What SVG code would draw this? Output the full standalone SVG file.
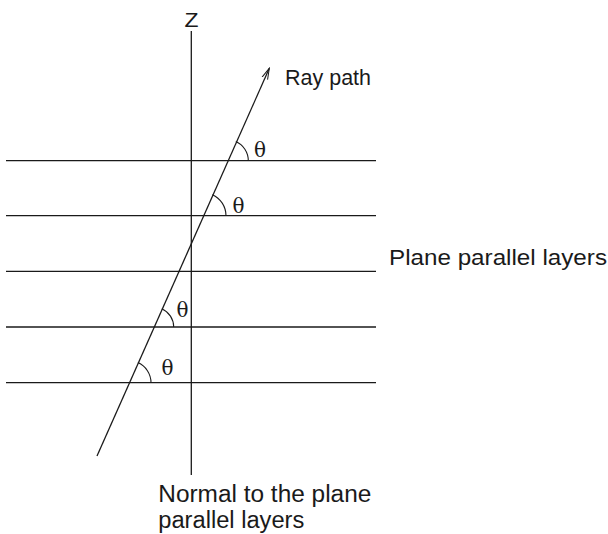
<svg xmlns="http://www.w3.org/2000/svg" width="608" height="534" viewBox="0 0 608 534">
<style>
.ln{stroke:#1a1a1a;stroke-width:1.3;fill:none}
.arc{stroke:#1a1a1a;stroke-width:1.1;fill:none}
.lbl{font-family:"Liberation Sans",Arial,Helvetica,sans-serif;fill:#1a1a1a}
.th{font-family:"DejaVu Serif","Liberation Serif",serif;font-size:21px;fill:#1a1a1a}
</style>
<defs>
<marker id="arr" viewBox="0 0 12 8" refX="11" refY="4" markerWidth="12" markerHeight="8" markerUnits="userSpaceOnUse" orient="auto">
<path d="M0,1 L11,4 L0,7" fill="none" stroke="#1a1a1a" stroke-width="1"/>
</marker>
</defs>
<rect width="608" height="534" fill="#fff"/>
<g id="layers">
<line class="ln" x1="6" y1="160.7" x2="376" y2="160.7"/>
<line class="ln" x1="6" y1="215.7" x2="376" y2="215.7"/>
<line class="ln" x1="6" y1="271.3" x2="376" y2="271.3"/>
<line class="ln" x1="6" y1="327" x2="376" y2="327"/>
<line class="ln" x1="6" y1="382.7" x2="376" y2="382.7"/>
</g>
<g id="normal">
<line class="ln" x1="191.3" y1="31" x2="191.3" y2="475"/>
</g>
<g id="connectors">
<line class="ln" x1="97" y1="456" x2="269.3" y2="68.3" marker-end="url(#arr)"/>
</g>
<g id="angles">
<path class="arc" d="M235.8,141.5 A21,21 0 0 1 248.3,160.7"/>
<path class="arc" d="M212.3,194.7 A23,23 0 0 1 226,215.7"/>
<path class="arc" d="M161.8,308.7 A20,20 0 0 1 173.7,327"/>
<path class="arc" d="M137.9,362.6 A22,22 0 0 1 151,382.7"/>
<text class="th" x="254" y="157.3" textLength="12" lengthAdjust="spacingAndGlyphs">θ</text>
<text class="th" x="232.5" y="212.7" textLength="12" lengthAdjust="spacingAndGlyphs">θ</text>
<text class="th" x="176.5" y="316.7" textLength="12" lengthAdjust="spacingAndGlyphs">θ</text>
<text class="th" x="161.5" y="375" textLength="12" lengthAdjust="spacingAndGlyphs">θ</text>
</g>
<g id="labels">
<text class="lbl" x="191.5" y="26.7" font-size="20" textLength="14" lengthAdjust="spacingAndGlyphs" text-anchor="middle">Z</text>
<text class="lbl" x="285" y="85" font-size="22.5" textLength="86" lengthAdjust="spacingAndGlyphs">Ray path</text>
<text class="lbl" x="389" y="265" font-size="22.5" textLength="218" lengthAdjust="spacingAndGlyphs">Plane parallel layers</text>
<text class="lbl" x="158.3" y="501.7" font-size="23" textLength="213" lengthAdjust="spacingAndGlyphs">Normal to the plane</text>
<text class="lbl" x="158.3" y="528.3" font-size="23" textLength="146" lengthAdjust="spacingAndGlyphs">parallel layers</text>
</g>
</svg>
